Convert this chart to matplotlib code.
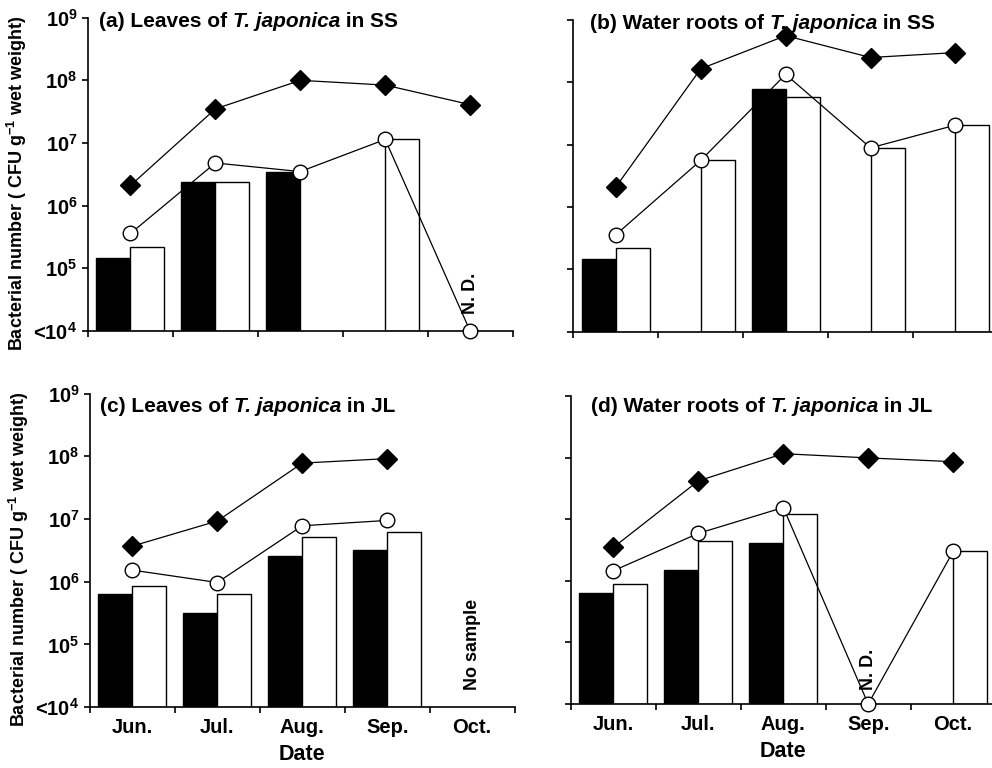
import numpy as np
import matplotlib
matplotlib.use('Agg')
import matplotlib.pyplot as plt
import matplotlib.ticker as mticker

plt.rcParams['font.family'] = ['Liberation Sans', 'DejaVu Sans']
plt.rcParams['font.weight'] = 'bold'
plt.rcParams['mathtext.fontset'] = 'custom'
plt.rcParams['mathtext.default'] = 'bf'
plt.rcParams['mathtext.bf'] = 'Liberation Sans:bold'
plt.rcParams['mathtext.rm'] = 'Liberation Sans:bold'

months = ['Jun.', 'Jul.', 'Aug.', 'Sep.', 'Oct.']
FLOOR = 1e4  # "<10^4" / not detected
nan = np.nan

# (a) leaves, SS
a_diamond = [2.1e6, 3.5e7, 1.0e8, 8.4e7, 4.1e7]
a_circle = [3.6e5, 4.8e6, 3.5e6, 1.14e7, FLOOR]
a_black = [1.46e5, 2.4e6, 3.5e6, nan, nan]
a_white = [2.2e5, 2.4e6, nan, 1.14e7, nan]

# (b) water roots, SS
b_diamond = [2.1e6, 1.65e8, 5.6e8, 2.5e8, 3.0e8]
b_circle = [3.6e5, 5.6e6, 1.34e8, 8.9e6, 2.06e7]
b_black = [1.47e5, nan, 7.8e7, nan, nan]
b_white = [2.2e5, 5.7e6, 5.9e7, 8.9e6, 2.06e7]

# (c) leaves, JL (no October sample)
c_diamond = [3.7e6, 9.3e6, 7.8e7, 9.2e7, nan]
c_circle = [1.53e6, 9.7e5, 7.8e6, 9.5e6, nan]
c_black = [6.3e5, 3.2e5, 2.6e6, 3.2e6, nan]
c_white = [8.6e5, 6.3e5, 5.2e6, 6.3e6, nan]

# (d) water roots, JL
d_diamond = [3.5e6, 4.2e7, 1.16e8, 9.9e7, 8.6e7]
d_circle = [1.46e6, 5.9e6, 1.55e7, FLOOR, 3.0e6]
d_black = [6.4e5, 1.52e6, 4.1e6, nan, nan]
d_white = [8.8e5, 4.4e6, 1.21e7, nan, 3.0e6]

panels = [
    ('(a) Leaves of ', 'in SS', a_diamond, a_circle, a_black, a_white),
    ('(b) Water roots of ', 'in SS', b_diamond, b_circle, b_black, b_white),
    ('(c) Leaves of ', 'in JL', c_diamond, c_circle, c_black, c_white),
    ('(d) Water roots of ', 'in JL', d_diamond, d_circle, d_black, d_white),
]

# axes rectangles in figure fraction
rects = [
    [0.0887, 0.569, 0.428, 0.408],
    [0.578, 0.568, 0.428, 0.406],
    [0.0907, 0.0794, 0.428, 0.408],
    [0.5756, 0.0833, 0.428, 0.401],
]
title_pos = [(0.026, 0.971), (0.040, 0.970), (0.024, 0.943), (0.047, 0.948)]

fig = plt.figure(figsize=(9.92, 7.68), dpi=100)
x = np.arange(len(months))
bw = 0.4

for i, (pre, post, dia, cir, blk, wht) in enumerate(panels):
    ax = fig.add_axes(rects[i])
    ax.set_yscale('log')
    ax.set_ylim(FLOOR, 1e9)
    ax.set_xlim(-0.5, 4.5)

    blk = np.array(blk)
    wht = np.array(wht)
    ax.bar(x - bw, blk - FLOOR, bottom=FLOOR, width=bw, align='edge',
           color='black', edgecolor='black', linewidth=1.0, zorder=2)
    ax.bar(x, wht - FLOOR, bottom=FLOOR, width=bw, align='edge',
           color='white', edgecolor='black', linewidth=1.0, zorder=2)

    ax.plot(x, dia, '-', color='black', lw=0.9, marker='D', ms=10.5,
            mfc='black', mec='black', zorder=4, clip_on=False)
    ax.plot(x, cir, '-', color='black', lw=0.9, marker='o', ms=10.5,
            mfc='white', mec='black', mew=1.0, zorder=4, clip_on=False)

    for side in ['top', 'right']:
        ax.spines[side].set_visible(False)
    for side in ['left', 'bottom']:
        ax.spines[side].set_linewidth(1.2)

    ax.yaxis.set_major_locator(mticker.FixedLocator([1e4, 1e5, 1e6, 1e7, 1e8, 1e9]))
    ax.yaxis.set_minor_locator(mticker.NullLocator())
    ax.xaxis.set_major_locator(mticker.FixedLocator(np.arange(-0.5, 5, 1.0)))
    ax.xaxis.set_minor_locator(mticker.FixedLocator(x))
    ax.tick_params(axis='both', which='major', direction='out', length=4, width=1.2)
    ax.tick_params(axis='x', which='minor', length=0, pad=8)
    ax.xaxis.set_major_formatter(mticker.NullFormatter())

    if i % 2 == 0:
        ax.set_yticklabels([r'<10$^{4}$', r'10$^{5}$', r'10$^{6}$', r'10$^{7}$',
                            r'10$^{8}$', r'10$^{9}$'], fontsize=14.5, fontweight='bold')
        ax.set_ylabel(r'Bacterial number ( CFU g$^{-1}$ wet weight)',
                      fontsize=13, fontweight='bold')
        ax.yaxis.set_label_coords(-0.14, 0.47)
    else:
        ax.yaxis.set_major_formatter(mticker.NullFormatter())

    if i >= 2:
        ax.xaxis.set_minor_formatter(mticker.FixedFormatter(months))
        for lab in ax.get_xticklabels(minor=True):
            lab.set_fontsize(14.5)
            lab.set_fontweight('bold')
        ax.set_xlabel('Date', fontsize=15.5, fontweight='bold', labelpad=5)
    else:
        ax.xaxis.set_minor_formatter(mticker.NullFormatter())

    # title with italic species name
    tx, ty = title_pos[i]
    t1 = ax.text(tx, ty, pre, transform=ax.transAxes, fontsize=15,
                 fontweight='bold', ha='left', va='baseline')
    t2 = ax.annotate('T. japonica', xy=(1, 0), xycoords=t1, fontsize=15,
                     fontweight='bold', fontstyle='italic', ha='left', va='bottom')
    ax.annotate(' ' + post, xy=(1, 0), xycoords=t2, fontsize=15,
                fontweight='bold', ha='left', va='bottom')

    if i == 0:
        ax.annotate('N. D.', xy=(4, FLOOR), xytext=(0, 12), textcoords='offset points',
                    rotation=90, ha='center', va='bottom', fontsize=13, fontweight='bold')
    if i == 2:
        ax.annotate('No sample', xy=(4, FLOOR), xytext=(0, 12), textcoords='offset points',
                    rotation=90, ha='center', va='bottom', fontsize=13, fontweight='bold')
    if i == 3:
        ax.annotate('N. D.', xy=(3, FLOOR), xytext=(0, 10), textcoords='offset points',
                    rotation=90, ha='center', va='bottom', fontsize=13, fontweight='bold')

fig.savefig('out.png', dpi=100)
